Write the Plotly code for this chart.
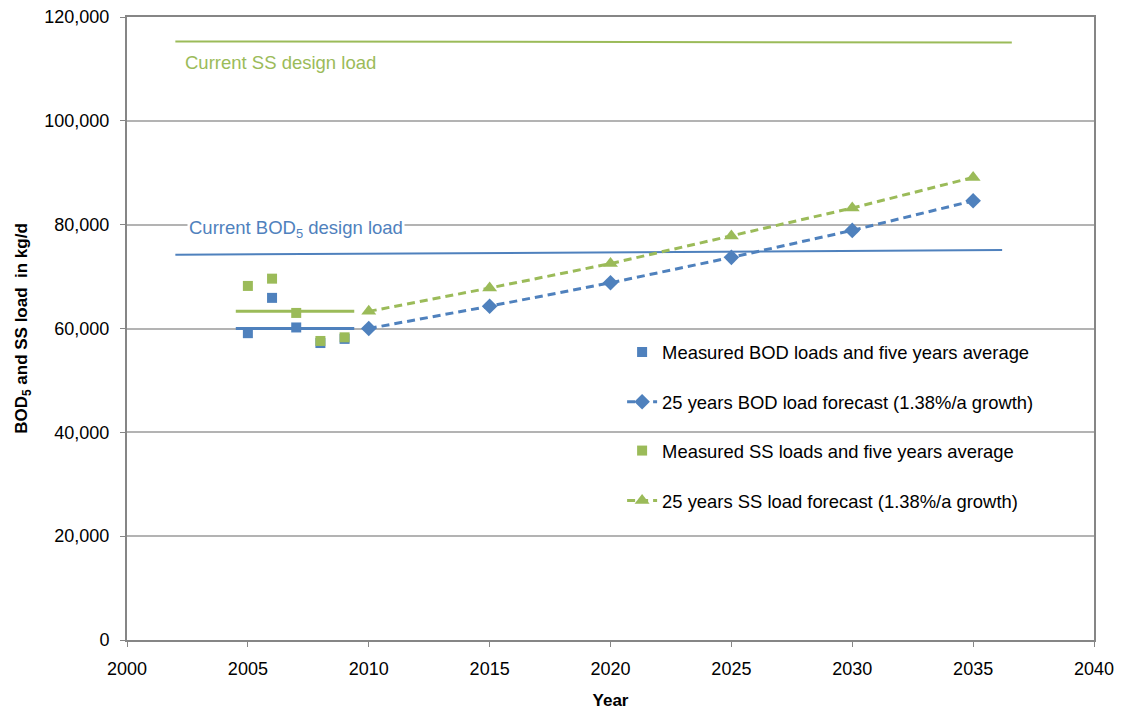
import plotly.graph_objects as go

# ---- data ----
measured_years = [2005, 2006, 2007, 2008, 2009]
bod_measured = [59100, 65900, 60200, 57200, 58000]
ss_measured = [68200, 69600, 63000, 57600, 58300]

avg_years = [2004.5, 2009.4]
bod_avg = [60000, 60000]
ss_avg = [63300, 63300]

forecast_years = [2010, 2015, 2020, 2025, 2030, 2035]
bod_forecast = [60000, 64300, 68800, 73700, 78900, 84600]
ss_forecast = [63300, 67800, 72500, 77800, 83200, 89100]

bod_design_years = [2002, 2036.2]
bod_design = [74200, 75100]
ss_design_years = [2002, 2036.6]
ss_design = [115300, 115100]

x_ticks = [2000, 2005, 2010, 2015, 2020, 2025, 2030, 2035, 2040]
y_ticks = [0, 20000, 40000, 60000, 80000, 100000, 120000]

BLUE = "#4f81bd"
GREEN = "#9bbb59"
FONT = "Arial, Liberation Sans, sans-serif"

fig = go.Figure()

# design load lines
fig.add_trace(go.Scatter(x=bod_design_years, y=bod_design, mode="lines",
                         line=dict(color=BLUE, width=2), showlegend=False, hoverinfo="skip"))
fig.add_trace(go.Scatter(x=ss_design_years, y=ss_design, mode="lines",
                         line=dict(color=GREEN, width=2), showlegend=False, hoverinfo="skip"))

# five-year averages
fig.add_trace(go.Scatter(x=avg_years, y=bod_avg, mode="lines",
                         line=dict(color=BLUE, width=3), showlegend=False, hoverinfo="skip"))
fig.add_trace(go.Scatter(x=avg_years, y=ss_avg, mode="lines",
                         line=dict(color=GREEN, width=3), showlegend=False, hoverinfo="skip"))

# measured
fig.add_trace(go.Scatter(x=measured_years, y=bod_measured, mode="markers",
                         name="Measured BOD loads and five years average",
                         marker=dict(symbol="square", size=10, color=BLUE),
                         legend="legend"))
fig.add_trace(go.Scatter(x=measured_years, y=ss_measured, mode="markers",
                         name="Measured SS loads and five years average",
                         marker=dict(symbol="square", size=10, color=GREEN),
                         legend="legend3"))

# forecasts
fig.add_trace(go.Scatter(x=forecast_years, y=bod_forecast, mode="lines+markers",
                         name="25 years BOD load forecast (1.38%/a growth)",
                         line=dict(color=BLUE, width=3, dash="8px,5px"),
                         marker=dict(symbol="diamond", size=12, color=BLUE),
                         legend="legend2"))
fig.add_trace(go.Scatter(x=forecast_years, y=ss_forecast, mode="lines+markers",
                         name="25 years SS load forecast (1.38%/a growth)",
                         line=dict(color=GREEN, width=3, dash="8px,5px"),
                         marker=dict(symbol="triangle-up", size=13, color=GREEN),
                         legend="legend4"))

leg_common = dict(bgcolor="rgba(0,0,0,0)", borderwidth=0, xanchor="left",
                  yanchor="middle", x=0.512, font=dict(family=FONT, size=18.4, color="#000000"))

fig.update_layout(
    width=1114, height=702,
    margin=dict(l=119, r=28, t=9, b=70),
    paper_bgcolor="white", plot_bgcolor="white",
    font=dict(family=FONT, size=18, color="#000000"),
    legend=dict(y=0.4624, **leg_common),
    legend2=dict(y=0.3824, **leg_common),
    legend3=dict(y=0.304, **leg_common),
    legend4=dict(y=0.224, **leg_common),
    xaxis=dict(range=[2000, 2040], tickvals=x_ticks, ticktext=[str(v) for v in x_ticks],
               showgrid=False, zeroline=False, showline=True, linecolor="#868686",
               linewidth=2, mirror=True, ticks="outside", ticklen=5, tickcolor="#868686",
               automargin=False, ticklabelstandoff=6, ticklabeloverflow="allow",
               tickfont=dict(family=FONT, size=18, color="#000000"),
               title=dict(text="<b>Year</b>", font=dict(family=FONT, size=17), standoff=18)),
    yaxis=dict(range=[0, 120000], tickvals=y_ticks,
               ticktext=[f"{v:,}" for v in y_ticks],
               showgrid=True, gridcolor="#b3b3b3", gridwidth=1.5, zeroline=False,
               showline=True, linecolor="#868686", linewidth=2, mirror=True,
               ticks="outside", ticklen=5, tickcolor="#868686",
               automargin=False, ticklabelstandoff=7, ticklabeloverflow="allow",
               tickfont=dict(family=FONT, size=18, color="#000000"),
               title=dict(text="<b>BOD<sub>5</sub> and SS load  in kg/d</b>",
                          font=dict(family=FONT, size=17), standoff=12)),
    annotations=[
        dict(x=2002.3, y=111300, xref="x", yref="y", xanchor="left", yanchor="middle",
             text="Current SS design load", showarrow=False,
             font=dict(family=FONT, size=18.5, color=GREEN)),
        dict(x=2002.5, y=79200, xref="x", yref="y", xanchor="left", yanchor="middle",
             text="Current BOD<sub>5</sub> design load", showarrow=False, bgcolor="white",
             font=dict(family=FONT, size=18.5, color=BLUE)),
    ],
)

fig.write_html("out.html")
